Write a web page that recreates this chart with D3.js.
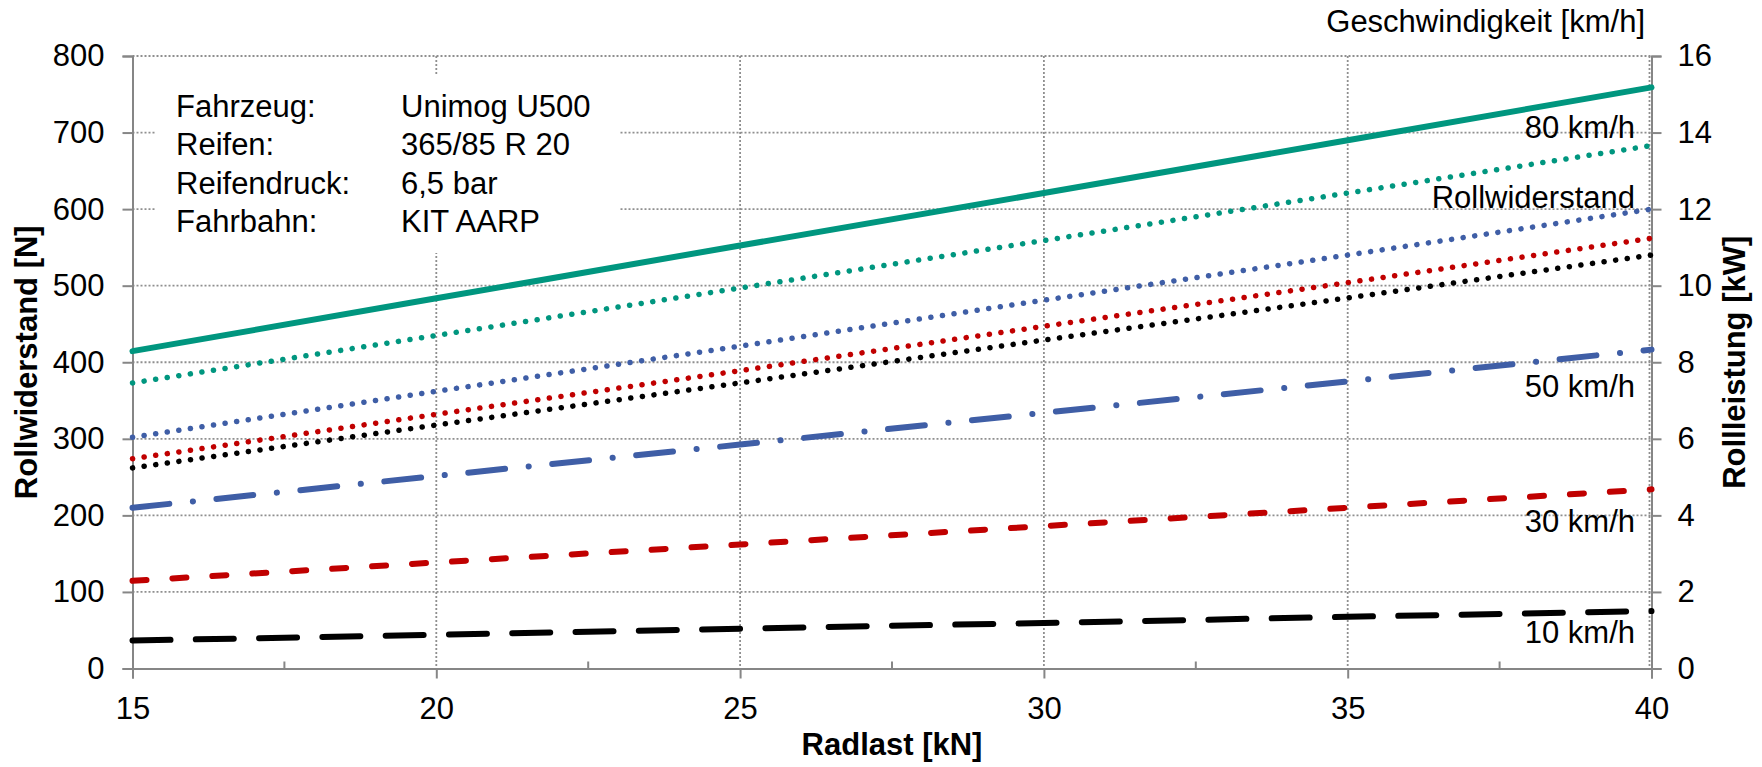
<!DOCTYPE html>
<html>
<head>
<meta charset="utf-8">
<script src="https://cdn.jsdelivr.net/npm/d3@7"></script>
<style>
  html, body { margin: 0; padding: 0; background: #fff; }
  svg { display: block; font-family: "Liberation Sans", Arial, sans-serif; }
</style>
</head>
<body>
<svg id="chart" width="1762" height="767"></svg>
<script>
// ---------- data ----------
const radlast = [15, 20, 25, 30, 35, 40];               // kN
// Rollwiderstand [N] (left axis)
const widerstand80 = [373, 435, 497, 559, 621, 683];
const widerstand50 = [302, 362, 421, 481, 540, 600];
const widerstand30 = [274, 332, 389, 447, 504, 562];
const widerstand10 = [262, 318, 373, 429, 484, 540];
// Rollleistung [kW] (right axis)
const leistung80 = [8.29, 9.67, 11.05, 12.42, 13.80, 15.18];
const leistung50 = [4.20, 5.03, 5.85, 6.68, 7.50, 8.33];
const leistung30 = [2.29, 2.77, 3.24, 3.72, 4.20, 4.68];
const leistung10 = [0.73, 0.88, 1.04, 1.19, 1.35, 1.50];

const xTicks = [15, 20, 25, 30, 35, 40];
const xMinorTicks = [17.5, 22.5, 27.5, 32.5, 37.5];
const yLeftTicks = [0, 100, 200, 300, 400, 500, 600, 700, 800];
const yRightTicks = [0, 2, 4, 6, 8, 10, 12, 14, 16];

const infoLabels = ["Fahrzeug:", "Reifen:", "Reifendruck:", "Fahrbahn:"];
const infoValues = ["Unimog U500", "365/85 R 20", "6,5 bar", "KIT AARP"];

// ---------- layout ----------
const svg = d3.select("#chart");
const L = 132.5, R = 1651.5, T = 56, B = 668.5;
const FS = 31;
const axisColor = "#868686";
const gridColor = "#8f8f8f";

const x = d3.scaleLinear().domain([15, 40]).range([L, R]);
const yL = d3.scaleLinear().domain([0, 800]).range([B, T]);
const yR = d3.scaleLinear().domain([0, 16]).range([B, T]);

const teal = "#00967f", blue = "#3f5ea6", red = "#c00000", black = "#000000";

// ---------- grid ----------
const grid = svg.append("g");
yLeftTicks.filter(d => d > 0).forEach(d => {
  grid.append("line").attr("x1", L).attr("x2", R).attr("y1", yL(d)).attr("y2", yL(d))
    .attr("stroke", gridColor).attr("stroke-width", 1.8).attr("stroke-dasharray", "2,2");
});
xTicks.filter(d => d > 15).forEach(d => {
  grid.append("line").attr("x1", x(d) - (d === 40 ? 2 : 0)).attr("x2", x(d) - (d === 40 ? 2 : 0))
    .attr("y1", T).attr("y2", B)
    .attr("stroke", gridColor).attr("stroke-width", 1.8).attr("stroke-dasharray", "2,2");
});

// ---------- info box (white background covers grid) ----------
svg.append("rect").attr("x", 155).attr("y", 75).attr("width", 465).attr("height", 178).attr("fill", "#fff");
const info = svg.append("g").attr("font-size", FS).attr("fill", "#000");
infoLabels.forEach((t, i) => {
  info.append("text").attr("x", 176).attr("y", 117 + i * 38.4).text(t);
  info.append("text").attr("x", 401).attr("y", 117 + i * 38.4).text(infoValues[i]);
});

// ---------- axes ----------
const axG = svg.append("g");
// left axis
axG.append("g").attr("transform", `translate(${L},0)`)
  .call(d3.axisLeft(yL).tickValues(yLeftTicks).tickSize(10).tickPadding(18).tickFormat(d3.format("d")))
  .call(g => { g.select(".domain").attr("stroke", axisColor).attr("stroke-width", 2);
               g.selectAll(".tick line").attr("stroke", axisColor).attr("stroke-width", 2);
               g.selectAll("text").attr("font-size", FS).attr("fill", "#000")
                 .attr("font-family", "Liberation Sans, Arial, sans-serif"); });
// right axis
axG.append("g").attr("transform", `translate(${R},0)`)
  .call(d3.axisRight(yR).tickValues(yRightTicks).tickSize(10).tickPadding(16).tickFormat(d3.format("d")))
  .call(g => { g.select(".domain").attr("stroke", axisColor).attr("stroke-width", 2);
               g.selectAll(".tick line").attr("stroke", axisColor).attr("stroke-width", 2);
               g.selectAll("text").attr("font-size", FS).attr("fill", "#000")
                 .attr("font-family", "Liberation Sans, Arial, sans-serif"); });
// bottom axis
axG.append("g").attr("transform", `translate(0,${B})`)
  .call(d3.axisBottom(x).tickValues(xTicks).tickSize(10).tickPadding(18).tickFormat(d3.format("d")))
  .call(g => { g.select(".domain").attr("stroke", axisColor).attr("stroke-width", 2);
               g.selectAll(".tick line").attr("stroke", axisColor).attr("stroke-width", 2);
               g.selectAll("text").attr("font-size", FS).attr("fill", "#000")
                 .attr("font-family", "Liberation Sans, Arial, sans-serif"); });
// minor ticks (inside)
xMinorTicks.forEach(d => {
  axG.append("line").attr("x1", x(d)).attr("x2", x(d)).attr("y1", B).attr("y2", B - 7)
    .attr("stroke", axisColor).attr("stroke-width", 2);
});

// ---------- series ----------
const lineL = d3.line().x((d, i) => x(radlast[i])).y(d => yL(d));
const lineR = d3.line().x((d, i) => x(radlast[i])).y(d => yR(d));
const dotted = "0.1,11.6";
const series = [
  { data: widerstand10, gen: lineL, color: black, w: 5.5, dash: dotted },
  { data: widerstand30, gen: lineL, color: red,   w: 5.5, dash: dotted },
  { data: widerstand50, gen: lineL, color: blue,  w: 5.5, dash: dotted },
  { data: widerstand80, gen: lineL, color: teal,  w: 5.5, dash: dotted },
  { data: leistung10,   gen: lineR, color: black, w: 6,   dash: "38,25.3" },
  { data: leistung30,   gen: lineR, color: red,   w: 6,   dash: "14,26" },
  { data: leistung50,   gen: lineR, color: blue,  w: 6,   dash: "37,23.7,0.1,23.6" },
  { data: leistung80,   gen: lineR, color: teal,  w: 6,   dash: null }
];
const sg = svg.append("g");
series.forEach(s => {
  const p = sg.append("path").attr("d", s.gen(s.data)).attr("fill", "none")
    .attr("stroke", s.color).attr("stroke-width", s.w).attr("stroke-linecap", "round");
  if (s.dash) p.attr("stroke-dasharray", s.dash);
});

// ---------- labels ----------
const lab = svg.append("g").attr("font-size", FS).attr("fill", "#000").attr("text-anchor", "end");
const seriesLabels = [
  { t: "80 km/h", y: 138 },
  { t: "Rollwiderstand", y: 208 },
  { t: "50 km/h", y: 397 },
  { t: "30 km/h", y: 532 },
  { t: "10 km/h", y: 643 }
];
seriesLabels.forEach(l => lab.append("text").attr("x", 1635).attr("y", l.y).text(l.t));
svg.append("text").attr("x", 1645).attr("y", 32).attr("text-anchor", "end")
  .attr("font-size", FS).text("Geschwindigkeit [km/h]");

// axis titles
svg.append("text").attr("x", (L + R) / 2).attr("y", 755).attr("text-anchor", "middle")
  .attr("font-size", FS).attr("font-weight", "bold").text("Radlast [kN]");
svg.append("text").attr("transform", `translate(37,${(T + B) / 2}) rotate(-90)`).attr("text-anchor", "middle")
  .attr("font-size", FS).attr("font-weight", "bold").text("Rollwiderstand [N]");
svg.append("text").attr("transform", `translate(1745,${(T + B) / 2}) rotate(-90)`).attr("text-anchor", "middle")
  .attr("font-size", FS).attr("font-weight", "bold").text("Rollleistung [kW]");
</script>
</body>
</html>
